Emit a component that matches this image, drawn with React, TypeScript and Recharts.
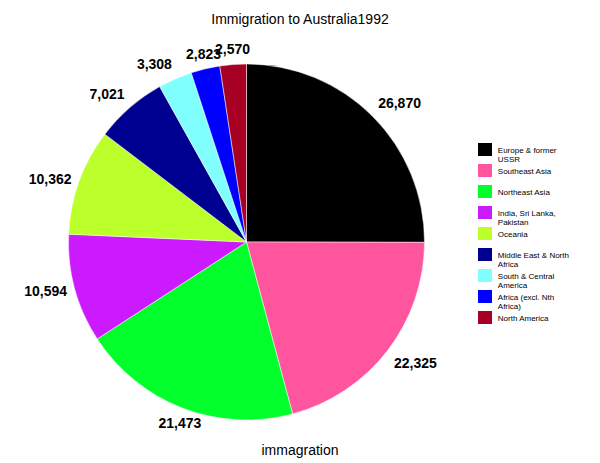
import React from 'react';
import { PieChart, Pie, Cell, Legend } from 'recharts';

const CATEGORIES = [
  'Europe & former USSR',
  'Southeast Asia',
  'Northeast Asia',
  'India, Sri Lanka, Pakistan',
  'Oceania',
  'Middle East & North Africa',
  'South & Central America',
  'Africa (excl. Nth Africa)',
  'North America',
];
const VALUES = [26870, 22325, 21473, 10594, 10362, 7021, 3308, 2823, 2570];
const COLORS = ['#000000', '#FF559F', '#00FF2B', '#CC1AFF', '#BBFF2B', '#000090', '#80FFFF', '#0000FF', '#A80024'];
const TITLE = 'Immigration to Australia1992';
const SERIES_NAME = 'immagration';

const data = CATEGORIES.map((name, i) => ({ name, value: VALUES[i] }));
const FONT = '"Liberation Sans", Arial, Helvetica, sans-serif';
const RADIAN = Math.PI / 180;

const renderLabel = (props: any) => {
  const { cx, cy, midAngle, outerRadius, value, index } = props;
  const r = outerRadius + 8;
  const dx = Math.cos(-midAngle * RADIAN);
  const dy = Math.sin(-midAngle * RADIAN);
  const px = cx + r * dx;
  const py = cy + r * dy;
  const anchor = dx > 0.38 ? 'start' : dx < -0.38 ? 'end' : 'middle';
  const yc = py + (Math.abs(dy) > 0.5 ? Math.sign(dy) * 7.5 : 0);
  return (
    <text
      key={`lbl-${index}`}
      x={px}
      y={yc + 5}
      textAnchor={anchor}
      fill="#000"
      fontSize={14}
      fontWeight="bold"
      fontFamily={FONT}
    >
      {Number(value).toLocaleString('en-US')}
    </text>
  );
};

const renderLegend = () => (
  <div style={{ width: 115 }}>
    {CATEGORIES.map((name, i) => (
      <div key={name} style={{ position: 'relative', height: 21, width: 115 }}>
        <div style={{ position: 'absolute', left: 0, top: 0, width: 14, height: 13, background: COLORS[i] }} />
        <div
          style={{
            position: 'absolute',
            left: 19.5,
            top: 4,
            width: 76,
            fontSize: 8,
            lineHeight: '8.5px',
            fontFamily: FONT,
            color: '#000',
          }}
        >
          {name}
        </div>
      </div>
    ))}
  </div>
);

export default function App() {
  return (
    <div style={{ position: 'absolute', left: 0, top: 0, width: 600, height: 463, background: '#fff' }}>
      <div
        style={{
          position: 'absolute',
          left: 0,
          top: 10.5,
          width: 600,
          textAlign: 'center',
          fontSize: 14,
          lineHeight: '16px',
          fontFamily: FONT,
          color: '#000',
        }}
      >
        {TITLE}
      </div>
      <PieChart width={600} height={463} margin={{ top: 0, right: 0, bottom: 0, left: 0 }}>
        <Pie
          data={data}
          dataKey="value"
          nameKey="name"
          cx={246.5}
          cy={242}
          outerRadius={178}
          startAngle={90}
          endAngle={-270}
          stroke="#fff"
          strokeWidth={0.5}
          label={renderLabel}
          labelLine={false}
          isAnimationActive={false}
        >
          {data.map((d, i) => (
            <Cell key={d.name} fill={COLORS[i]} />
          ))}
        </Pie>
        <Legend
          layout="vertical"
          align="right"
          verticalAlign="top"
          wrapperStyle={{ left: 478.3, top: 143, right: 'auto', width: 115 }}
          content={renderLegend}
        />
      </PieChart>
      <div
        style={{
          position: 'absolute',
          left: 0,
          top: 442,
          width: 600,
          textAlign: 'center',
          fontSize: 14,
          lineHeight: '16px',
          fontFamily: FONT,
          color: '#000',
        }}
      >
        {SERIES_NAME}
      </div>
    </div>
  );
}
